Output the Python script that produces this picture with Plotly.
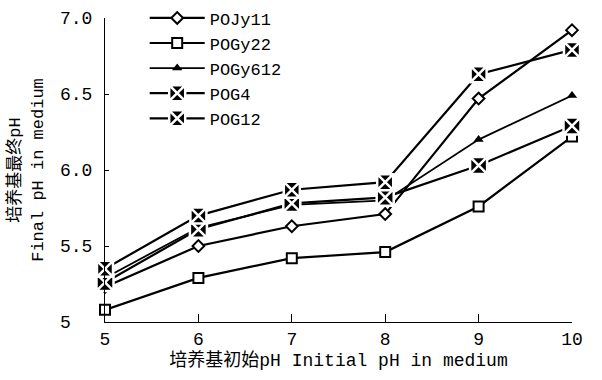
import plotly.graph_objects as go

x_ph = [5, 6, 7, 8, 9, 10]
pojy11 = [5.23, 5.50, 5.63, 5.71, 6.47, 6.92]
pogy22 = [5.08, 5.29, 5.42, 5.46, 5.76, 6.22]
pogy612 = [5.29, 5.62, 5.77, 5.80, 6.20, 6.49]
pog4 = [5.26, 5.61, 5.78, 5.82, 6.03, 6.29]
pog12 = [5.35, 5.70, 5.87, 5.92, 6.63, 6.79]

y_tickvals = [5, 5.5, 6.0, 6.5, 7.0]
y_ticktext = ["5\u00a0\u00a0", "5.5", "6.0", "6.5", "7.0"]
x_tickvals = [5, 6, 7, 8, 9, 10]

FONT = "Liberation Mono, Noto Sans CJK SC"

fig = go.Figure()

fig.add_trace(go.Scatter(
    x=x_ph, y=pojy11, name="POJy11", mode="lines+markers",
    line=dict(color="black", width=2.2),
    marker=dict(symbol="diamond", size=9, color="white", line=dict(color="black", width=2)),
))
fig.add_trace(go.Scatter(
    x=x_ph, y=pogy22, name="POGy22", mode="lines+markers",
    line=dict(color="black", width=2.2),
    marker=dict(symbol="square", size=10, color="white", line=dict(color="black", width=2)),
))
fig.add_trace(go.Scatter(
    x=x_ph, y=pogy612, name="POGy612", mode="lines+markers",
    line=dict(color="black", width=1.8),
    marker=dict(symbol="triangle-up", size=9, color="black"),
))
fig.add_trace(go.Scatter(
    x=x_ph, y=pog4, name="POG4", mode="lines+markers",
    line=dict(color="black", width=2.2),
    marker=dict(symbol="square-x", size=17, color="black", line=dict(color="white", width=2.5)),
))
fig.add_trace(go.Scatter(
    x=x_ph, y=pog12, name="POG12", mode="lines+markers",
    line=dict(color="black", width=2.2),
    marker=dict(symbol="square-x", size=16, color="black", line=dict(color="white", width=2.5)),
))

fig.update_traces(cliponaxis=False)

fig.update_layout(
    width=602, height=380,
    margin=dict(l=105, r=30, t=18, b=58, autoexpand=False),
    paper_bgcolor="white", plot_bgcolor="white",
    font=dict(family=FONT, size=17, color="black"),
    showlegend=True,
    legend=dict(
        x=0.085, y=1.058, xanchor="left", yanchor="top",
        bgcolor="rgba(0,0,0,0)", font=dict(size=17, family=FONT),
        itemwidth=55, tracegroupgap=0,
    ),
    xaxis=dict(
        range=[5, 10], tickvals=x_tickvals, ticks="inside", ticklen=8,
        tickcolor="black", showline=True, linecolor="black", linewidth=1,
        showgrid=False, zeroline=False, tickfont=dict(size=18),
        title=dict(text="培养基初始pH Initial pH in medium", font=dict(size=18), standoff=4),
    ),
    yaxis=dict(
        range=[5, 7.0], tickvals=y_tickvals, ticktext=y_ticktext, ticks="inside",
        ticklen=4, tickcolor="black", showline=True, linecolor="black", linewidth=1,
        showgrid=False, zeroline=False, tickfont=dict(size=18), ticklabelstandoff=8,
        title=dict(text="培养基最终pH<br>Final pH in medium", font=dict(size=17), standoff=12),
    ),
)

fig.write_html("out.html")
